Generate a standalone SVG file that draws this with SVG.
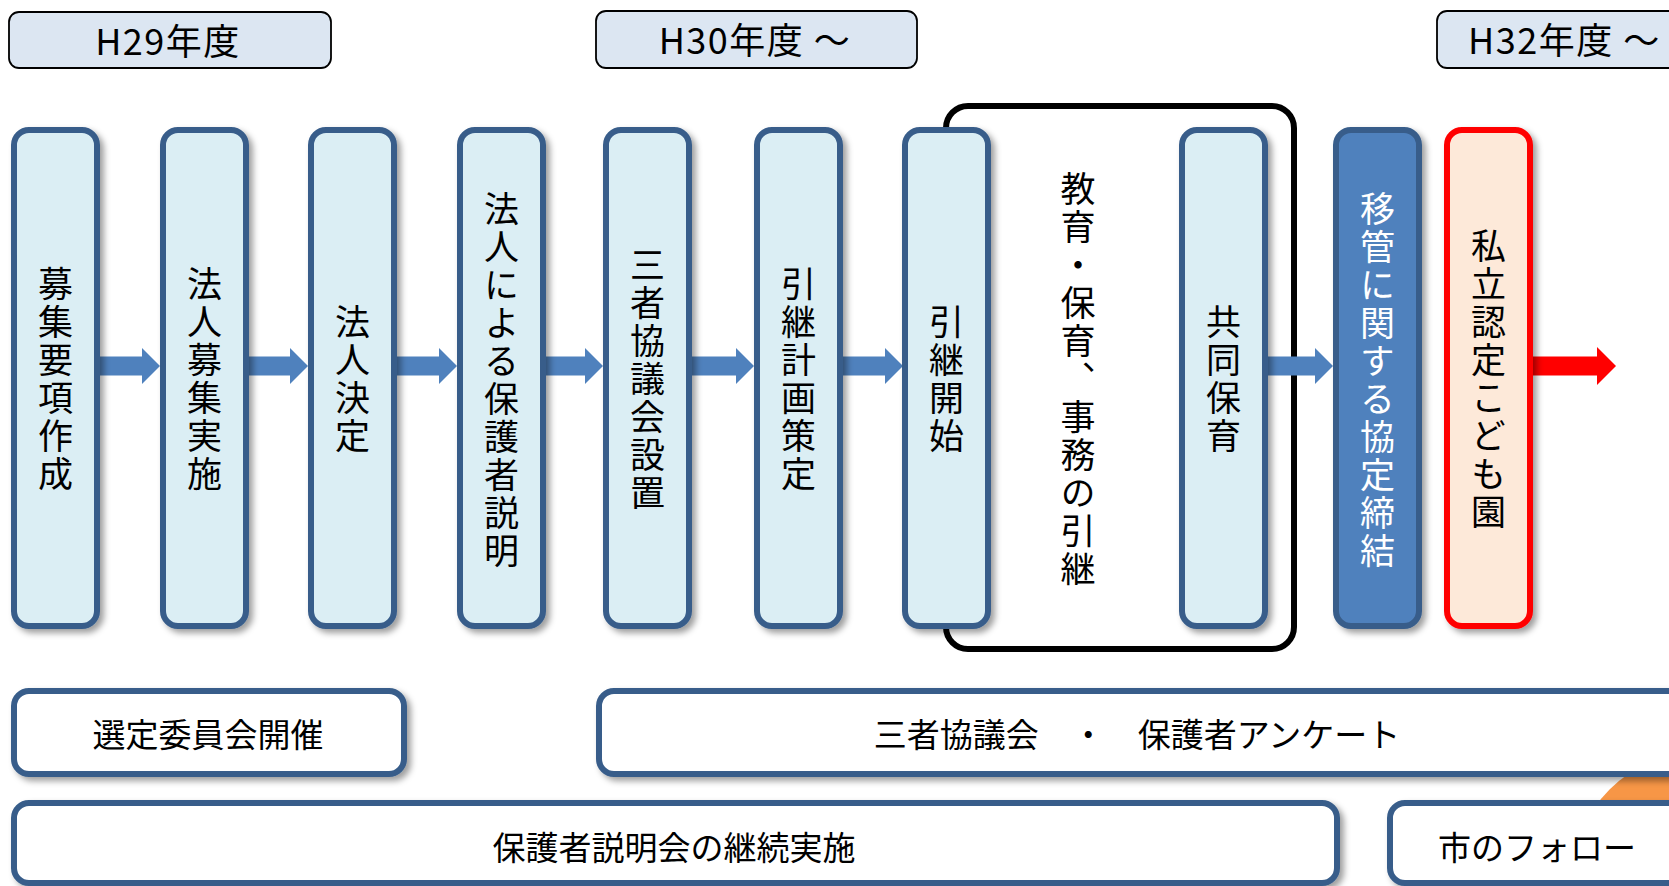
<svg xmlns="http://www.w3.org/2000/svg" width="1669" height="886" viewBox="0 0 1669 886">
<defs>
<filter id="sh" x="-20%" y="-20%" width="150%" height="150%">
<feDropShadow dx="4" dy="4" stdDeviation="3" flood-color="#000" flood-opacity="0.38"/>
</filter>
<style>
.hdr{fill:#dce6f2;stroke:#000;stroke-width:1.8}
.ht{font-family:"Noto Sans CJK JP","Liberation Sans",sans-serif;font-size:36px;letter-spacing:1.5px;fill:#000}
.tall{fill:#dbeef4;stroke:#385d8a;stroke-width:6;filter:url(#sh)}
.dark{fill:#4f81bd;stroke:#385d8a;stroke-width:6;filter:url(#sh)}
.red{fill:#fde9d9;stroke:#ff0000;stroke-width:6;filter:url(#sh)}
.wide{fill:#fff;stroke:#385d8a;stroke-width:6;filter:url(#sh)}
.vt{font-family:"Noto Sans CJK JP",sans-serif;font-size:35px;letter-spacing:3px;writing-mode:vertical-rl;text-anchor:middle;fill:#000}
.hz{font-family:"Noto Sans CJK JP",sans-serif;font-size:33px;text-anchor:middle;dominant-baseline:central;fill:#000}
.arr{fill:#4f81bd}
.arrR{fill:#ff0000}
</style>
</defs>
<rect width="1669" height="886" fill="#fff"/>

<circle id="orange" cx="1705" cy="885" r="135" fill="#f79646"/>

<g id="h29"><rect class="hdr" x="9" y="12" width="322" height="56" rx="10"/><text class="ht" x="168" y="55" text-anchor="middle">H29年度</text></g>
<g id="h30"><rect class="hdr" x="596" y="11" width="321" height="57" rx="10"/><text class="ht" x="755" y="54" text-anchor="middle">H30年度 ～</text></g>
<g id="h32"><rect class="hdr" x="1437" y="11" width="320" height="57" rx="10"/><text class="ht" x="1468" y="54">H32年度 ～</text></g>

<g id="handover"><rect x="946" y="106" width="348" height="543" rx="22" fill="#fff" stroke="#000" stroke-width="6"/><text class="vt" x="1078" y="380">教育・保育、事務の引継</text></g>

<g id="connectors">
<polygon class="arr" points="99,356.5 142,356.5 142,348 160,366 142,384 142,375.5 99,375.5"/>
<polygon class="arr" points="248,356.5 290,356.5 290,348 308,366 290,384 290,375.5 248,375.5"/>
<polygon class="arr" points="396,356.5 439,356.5 439,348 457,366 439,384 439,375.5 396,375.5"/>
<polygon class="arr" points="545,356.5 585,356.5 585,348 603,366 585,384 585,375.5 545,375.5"/>
<polygon class="arr" points="691,356.5 736,356.5 736,348 754,366 736,384 736,375.5 691,375.5"/>
<polygon class="arr" points="842,356.5 885,356.5 885,348 903,366 885,384 885,375.5 842,375.5"/>
<polygon class="arr" points="1267,356.5 1315,356.5 1315,348 1333,366 1315,384 1315,375.5 1267,375.5"/>
<polygon class="arrR" points="1532,356.5 1597,356.5 1597,347 1616,366 1597,385 1597,375.5 1532,375.5"/>
</g>

<g id="n1"><rect class="tall" x="14" y="130" width="83" height="496" rx="15"/><text class="vt" x="55.5" y="380">募集要項作成</text></g>
<g id="n2"><rect class="tall" x="163" y="130" width="83" height="496" rx="15"/><text class="vt" x="204.5" y="380">法人募集実施</text></g>
<g id="n3"><rect class="tall" x="311" y="130" width="83" height="496" rx="15"/><text class="vt" x="352.5" y="380">法人決定</text></g>
<g id="n4"><rect class="tall" x="460" y="130" width="83" height="496" rx="15"/><text class="vt" x="501.5" y="381">法人による保護者説明</text></g>
<g id="n5"><rect class="tall" x="606" y="130" width="83" height="496" rx="15"/><text class="vt" x="647.5" y="380">三者協議会設置</text></g>
<g id="n6"><rect class="tall" x="757" y="130" width="83" height="496" rx="15"/><text class="vt" x="798.5" y="380">引継計画策定</text></g>
<g id="n7"><rect class="tall" x="905" y="130" width="83" height="496" rx="15"/><text class="vt" x="946.5" y="380">引継開始</text></g>
<g id="n8"><rect class="tall" x="1182" y="130" width="83" height="496" rx="15"/><text class="vt" x="1223.5" y="380">共同保育</text></g>
<g id="n9"><rect class="dark" x="1336" y="130" width="83" height="496" rx="15"/><text class="vt" x="1377.5" y="381" style="fill:#fff">移管に関する協定締結</text></g>
<g id="n10"><rect class="red" x="1447" y="130" width="83" height="496" rx="15"/><text class="vt" x="1488.5" y="380">私立認定こども園</text></g>

<g id="b1"><rect class="wide" x="14" y="691" width="390" height="83" rx="15"/><text class="hz" x="208" y="733">選定委員会開催</text></g>
<g id="b2"><rect class="wide" x="599" y="691" width="1200" height="83" rx="15"/><text class="hz" x="1137" y="733">三者協議会　・　保護者アンケート</text></g>
<g id="b3"><rect class="wide" x="14" y="803" width="1323" height="80" rx="15"/><text class="hz" x="674" y="846">保護者説明会の継続実施</text></g>
<g id="b4"><rect class="wide" x="1390" y="803" width="330" height="80" rx="15"/><text class="hz" x="1537" y="846">市のフォロー</text></g>
</svg>
